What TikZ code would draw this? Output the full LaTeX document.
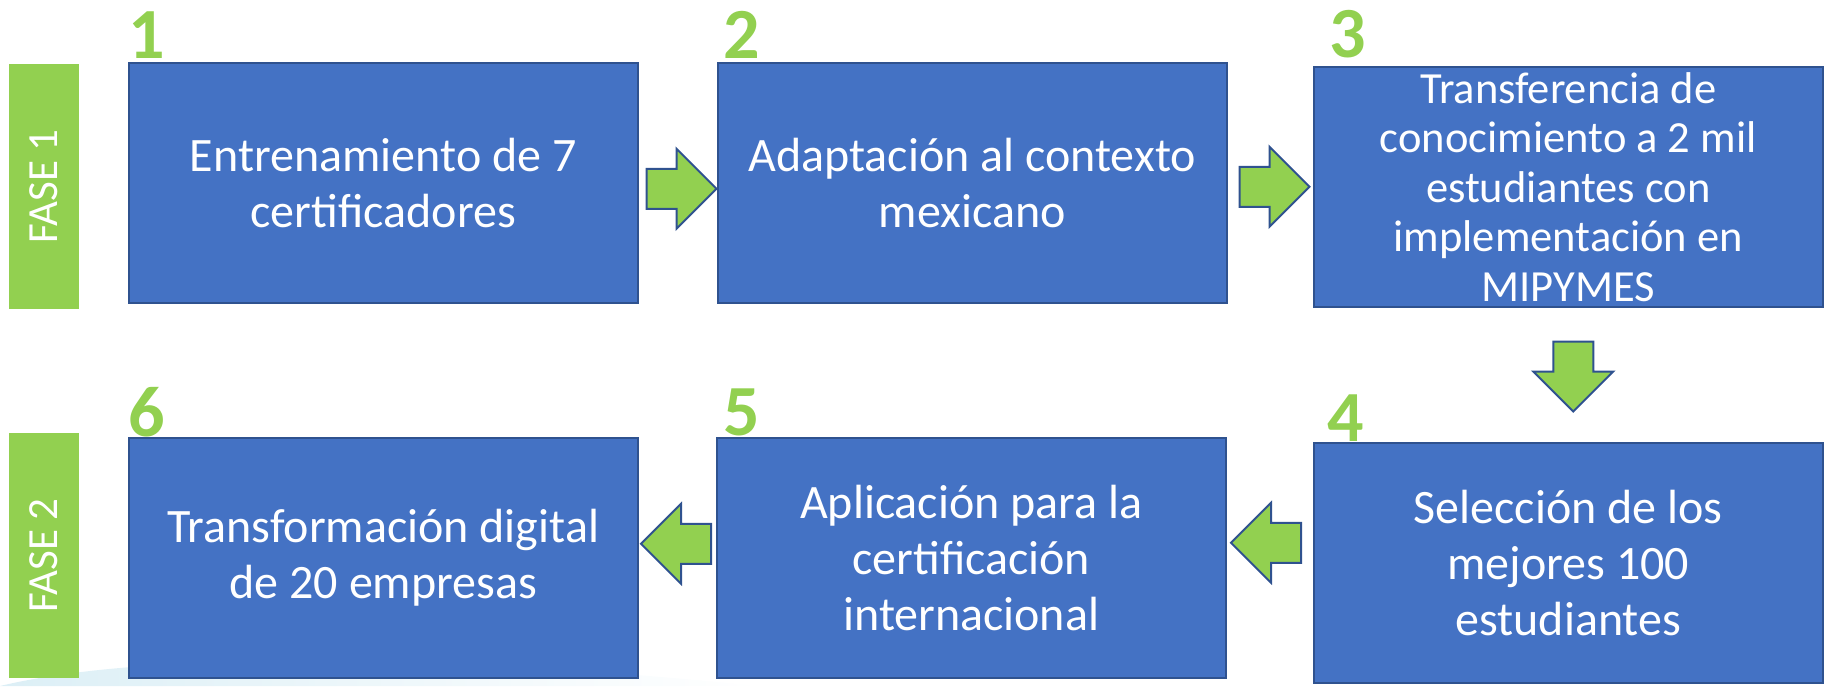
\documentclass[tikz,border=0pt]{standalone}
\usepackage{fontspec}
\setmainfont{Carlito}
\usepackage{tikz}
\usepackage{xcolor}
\usetikzlibrary{shapes.arrows,calc,positioning}
\definecolor{azul}{HTML}{4472C4}
\definecolor{azulborde}{HTML}{2F528F}
\definecolor{verde}{HTML}{92D050}
\definecolor{celeste}{HTML}{DCEFF6}

\begin{document}
\begin{tikzpicture}[x=1pt,y=-1pt,
	paso/.style={draw=azulborde, line width=1.5pt, fill=azul, text=white, anchor=north west,
		minimum width=509pt, minimum height=240pt, inner sep=0pt, align=center,
		font=\fontsize{48}{56}\selectfont},
	fase/.style={fill=verde, text=white, rotate=90, minimum width=245pt, minimum height=70pt,
		inner sep=0pt, font=\fontsize{43}{43}\selectfont},
	num/.style={text=verde, anchor=base west, inner sep=0pt, font=\bfseries\fontsize{72}{72}\selectfont},
	flecha/.style={single arrow, draw=azulborde, fill=verde, line width=2pt, inner xsep=0pt,
		inner ysep=19pt, single arrow head extend=20pt, minimum height=70pt, anchor=tail},
	flechabaja/.style={flecha, shape border rotate=270, inner xsep=19pt, inner ysep=0pt}]
	\useasboundingbox (0,0) rectangle (1828,686);
	%background
	\shade[left color=celeste, right color=white] (0,686) .. controls (150,650) and (450,655) .. (760,686) -- cycle;
	%phases
	\node[fase] (f1) at (44,186.5) {FASE 1};
	\node[fase] (f2) at (44,555.5) {FASE 2};
	%steps
	\node[paso] (b1) at (128,62) {Entrenamiento de 7\\certificadores};
	\node[paso] (b2) at (717,62) {Adaptación al contexto\\mexicano};
	\node[paso, font=\fontsize{44.5}{49.5}\selectfont] (b3) at (1313,66) {Transferencia de\\conocimiento a 2 mil\\estudiantes con\\implementación en\\MIPYMES};
	\node[paso] (b4) at (1313,442) {Selección de los\\mejores 100\\estudiantes};
	\node[paso] (b5) at (716,437) {Aplicación para la\\certificación\\internacional};
	\node[paso] (b6) at (128,437) {Transformación digital\\de 20 empresas};
	%numbers
	\node[num] (n1) at ([shift={(0pt,4pt)}]b1.north west) {1};
	\node[num] (n2) at ([shift={(6pt,4pt)}]b2.north west) {2};
	\node[num] (n3) at ([shift={(16pt,9pt)}]b3.north west) {3};
	\node[num] (n4) at ([shift={(14pt,1pt)}]b4.north west) {4};
	\node[num] (n5) at ([shift={(7pt,2pt)}]b5.north west) {5};
	\node[num] (n6) at ([shift={(0pt,1pt)}]b6.north west) {6};
	%arrows
	\node[flecha] (a12) at ([shift={(7pt,-6pt)}]b1.east) {};
	\node[flecha] (a23) at ([shift={(11pt,-4pt)}]b2.east) {};
	\node[flechabaja] (a34) at ([shift={(5pt,-33pt)}]b3.south) {};
	\node[flecha, shape border rotate=180] (a45) at ([shift={(-11pt,20pt)}]b4.west) {};
	\node[flecha, shape border rotate=180] (a56) at ([shift={(-4pt,14pt)}]b5.west) {};
\end{tikzpicture}
\end{document}
